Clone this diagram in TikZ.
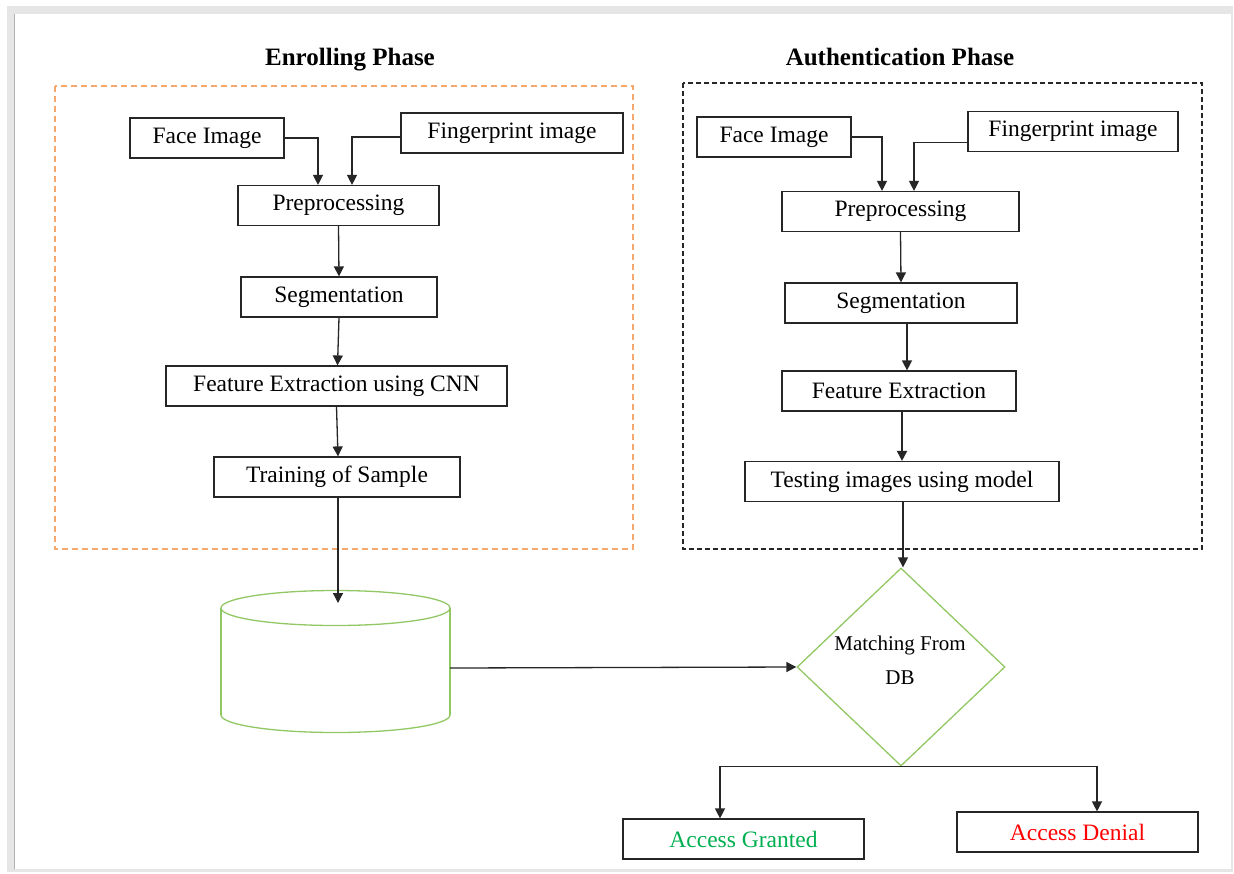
\documentclass[tikz,border=0pt]{standalone}
\usepackage{fontspec}
\setmainfont{Liberation Serif}
\usetikzlibrary{arrows.meta,shapes.geometric}
\definecolor{dashorange}{RGB}{244,168,110}
\definecolor{dbgreen}{RGB}{146,200,100}
\definecolor{okgreen}{RGB}{0,176,80}
\definecolor{framegray}{RGB}{230,230,230}
\tikzset{
  box/.style={draw=black!85, line width=1.2pt, fill=white, inner sep=0pt, minimum height=40pt, font=\fontsize{23.5}{28}\selectfont},
  arr/.style={draw=black!85, line width=1.3pt, -{Triangle[width=10pt,length=10pt]}},
  title/.style={font=\fontsize{25}{30}\selectfont\bfseries, anchor=base},
  greenline/.style={draw=dbgreen, line width=1.3pt}
}
\begin{document}
\begin{tikzpicture}[x=1pt,y=-1pt]
\useasboundingbox (0,0) rectangle (1234,873);
% page frame
\fill[framegray] (7,6) rectangle (1233,872);
\fill[white] (14,14) rectangle (1231,869);
\draw[black!30, line width=1pt] (14,14) -- (14,869);

% titles
\node[title] (t1) at (350,65) {Enrolling Phase};
\node[title] (t2) at (900,65) {Authentication Phase};

% phase frames
\draw[dashorange, line width=1.3pt, dash pattern=on 6pt off 4pt] (55,86) rectangle (633,549);
\draw[black!85, line width=1.2pt, dash pattern=on 5pt off 3pt] (683,83) rectangle (1202,549);

% enrolling phase
\node[box, minimum width=154pt] (fa1) at (207,138) {Face Image};
\node[box, minimum width=222pt] (fp1) at (512,133) {Fingerprint image};
\node[box, minimum width=201pt] (pre1) at (338.5,205.5) {Preprocessing};
\node[box, minimum width=196pt] (seg1) at (339,297) {Segmentation};
\node[box, minimum width=341pt] (fe1) at (336.5,386) {Feature Extraction using CNN};
\node[box, minimum width=246pt] (tr1) at (337,477) {Training of Sample};

\draw[arr] (fa1.east) -| ([xshift=-20.5pt]pre1.north);
\draw[arr] ([yshift=-4pt]fp1.west) -| ([xshift=13.5pt]pre1.north);
\draw[arr] (pre1.south) -- (seg1.north);
\draw[arr] (seg1.south) -- ([xshift=1pt]fe1.north);
\draw[arr] (fe1.south) -- ([xshift=1pt]tr1.north);

% database cylinder
\fill[white] (221,608) rectangle (450,715);
\draw[greenline] (221,608) -- (221,715);
\draw[greenline] (450,608) -- (450,715);
\draw[greenline] (221,715) arc[start angle=180, end angle=0, x radius=114.5, y radius=17.5];
\draw[greenline] (335.5,608) ellipse [x radius=114.5, y radius=17.5];
\node[inner sep=0pt, minimum width=229pt, minimum height=120pt] (db) at (335.5,668) {};
\coordinate (dbtop) at (338,603);
\draw[arr] ([xshift=1pt]tr1.south) -- (dbtop);

% authentication phase
\node[box, minimum width=154pt] (fa2) at (774,137) {Face Image};
\node[box, minimum width=210pt] (fp2) at (1073,131.5) {Fingerprint image};
\node[box, minimum width=237pt] (pre2) at (900.5,211.5) {Preprocessing};
\node[box, minimum width=232pt] (seg2) at (901,303) {Segmentation};
\node[box, minimum width=234pt] (fe2) at (899,391) {Feature Extraction};
\node[box, minimum width=314pt] (te2) at (902,481.5) {Testing images using model};

\draw[arr] (fa2.east) -| ([xshift=-18.5pt]pre2.north);
\draw[arr] ([yshift=-11pt]fp2.west) -| ([xshift=13.5pt]pre2.north);
\draw[arr] (pre2.south) -- (seg2.north);
\draw[arr] ([xshift=6pt]seg2.south) -- ([xshift=8pt]fe2.north);
\draw[arr, line width=2pt] ([xshift=3pt]fe2.south) -- (te2.north);

% decision
\node[diamond, greenline, fill=white, aspect=1.05, minimum width=208pt, minimum height=198pt, inner sep=0pt] (dm) at (901,667) {};
\node[font=\fontsize{21}{34}\selectfont, align=center] (dmt) at (900,660) {Matching From\\DB};
\draw[arr] ([xshift=1pt]te2.south) -- ([xshift=2pt]dm.north);
\draw[arr] (db.east) -- (dm.west);

% results
\node[box, minimum width=241pt, text=okgreen] (ag) at (743.5,839) {Access Granted};
\node[box, minimum width=241pt, text=red] (ad) at (1077.5,832) {Access Denial};
\draw[arr] (dm.south) -| ([xshift=-23.5pt]ag.north);
\draw[arr] (dm.south) -| ([xshift=19.5pt]ad.north);
\end{tikzpicture}
\end{document}
